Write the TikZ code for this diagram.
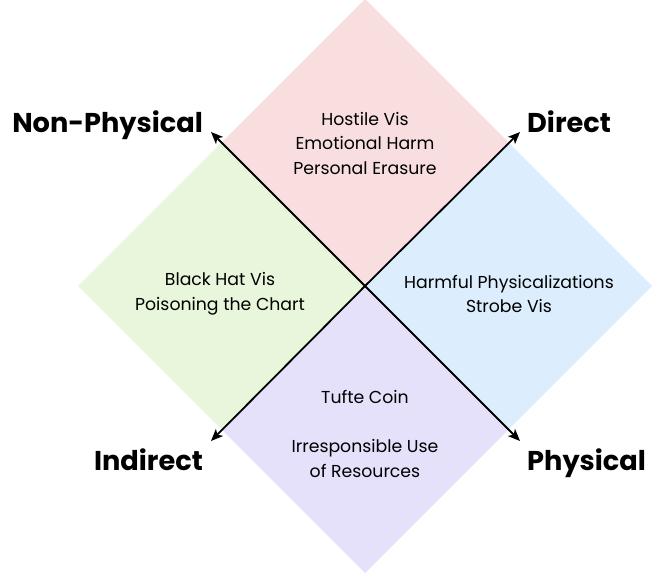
\documentclass[tikz,border=0pt]{standalone}
\usepackage{fontspec}
\setmainfont{Poppins}
\usetikzlibrary{arrows.meta}
\definecolor{harmpink}{HTML}{F9DEDF}
\definecolor{harmgreen}{HTML}{E8F6DC}
\definecolor{harmblue}{HTML}{DCEEFD}
\definecolor{harmpurple}{HTML}{E6E1FB}
\tikzset{
  axis/.style={line width=1.8pt,-{Stealth[length=12pt,width=10pt,inset=3pt]}},
  quad/.style={align=center,font=\fontsize{17.3}{24.5}\selectfont},
  pole/.style={inner sep=0pt,font=\fontsize{27.2}{30}\selectfont\bfseries}
}
\begin{document}
\begin{tikzpicture}[x=1pt,y=-1pt]
    \useasboundingbox (0,0) rectangle (657,575);
    \coordinate (c) at (365,286);
    \coordinate (t) at (365,-1);
    \coordinate (b) at (365,573);
    \coordinate (l) at (78,286);
    \coordinate (r) at (652,286);
    \coordinate (tl) at (221.5,142.5);
    \coordinate (tr) at (508.5,142.5);
    \coordinate (bl) at (221.5,429.5);
    \coordinate (br) at (508.5,429.5);
    \fill[harmpink] (t) -- (tr) -- (c) -- (tl) -- cycle;
    \fill[harmgreen] (tl) -- (c) -- (bl) -- (l) -- cycle;
    \fill[harmblue] (tr) -- (r) -- (br) -- (c) -- cycle;
    \fill[harmpurple] (c) -- (br) -- (b) -- (bl) -- cycle;
    \coordinate (NW) at (211,132);
    \coordinate (NE) at (520,132);
    \coordinate (SW) at (211,441);
    \coordinate (SE) at (520,441);
    \draw[axis] (c) -- (NW);
    \draw[axis] (c) -- (NE);
    \draw[axis] (c) -- (SW);
    \draw[axis] (c) -- (SE);
    \node[pole,anchor=base east] (nonphys) at (203,133) {Non-Physical};
    \node[pole,anchor=base west] (direct) at (527,133) {Direct};
    \node[pole,anchor=base east] (indirect) at (203,470) {Indirect};
    \node[pole,anchor=base west] (phys) at (527,470) {Physical};
    \node[quad] (hostile) at (365,143) {Hostile Vis\\Emotional Harm\\Personal Erasure};
    \node[quad] (blackhat) at (220,294) {Black Hat Vis\\Poisoning the Chart};
    \node[quad] (harmful) at (509,294) {Harmful Physicalizations\\Strobe Vis};
    \node[quad] (tufte) at (365,434) {Tufte Coin\\[24.5pt]Irresponsible Use\\of Resources};
\end{tikzpicture}
\end{document}
